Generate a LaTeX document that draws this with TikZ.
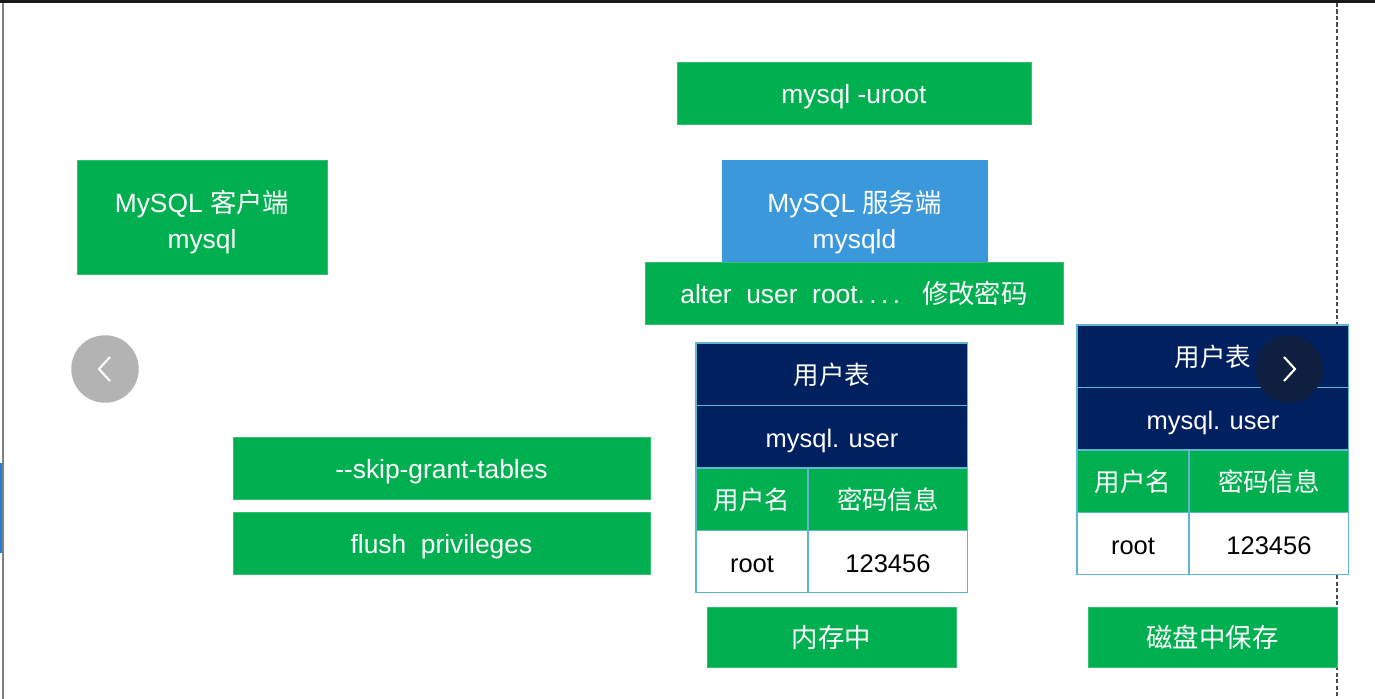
\documentclass[tikz,border=0pt]{standalone}
\usepackage{fontspec}
\setmainfont{Liberation Sans}
\newfontfamily\cjk{Noto Sans CJK SC}
\definecolor{boxgreen}{HTML}{00B050}
\definecolor{srvblue}{HTML}{3A98DB}
\definecolor{tabnavy}{HTML}{002060}
\definecolor{tabline}{HTML}{5FB6D2}
\definecolor{navdark}{HTML}{0E1F3F}
\definecolor{navgray}{HTML}{B3B3B3}
\definecolor{edgeblue}{HTML}{1E7FD8}
\begin{document}
\begin{tikzpicture}[x=0.02cm,y=-0.02cm,
      box/.style={fill=boxgreen,draw=boxgreen!80!white,line width=0.4pt,
        text=white,anchor=north west,inner sep=0pt,outer sep=0pt,
        font=\fontsize{15}{20.5}\selectfont,text height=15pt,text depth=2.6pt},
      twoline/.style={box,align=center,text height=,text depth=},
      cell/.style={draw=tabline,line width=0.6pt,anchor=north west,inner sep=0pt,
        outer sep=0pt,minimum height=1.25cm,font=\fontsize{14.5}{18}\selectfont,
        text height=14.5pt,text depth=2.6pt},
      navbtn/.style={circle,minimum size=1.35cm,inner sep=0pt},
      chev/.style={white,line width=1.2pt}]
      \useasboundingbox (0,0) rectangle (1375,699);
      \fill[white] (0,0) rectangle (1375,699);
      % window frame
      \fill[black!90] (0,0) rectangle (1375,3);
      \fill[edgeblue] (0,463) rectangle (2,553);
      \draw[gray,line width=1.1pt] (3,3)--(3,699);
      \draw[black!70,line width=0.6pt,dash pattern=on 2.5pt off 1.2pt] (1337,3)--(1337,699);
      % client and server
      \node[box,minimum width=7.08cm,minimum height=1.24cm] (uroot) at (677,62) {mysql -uroot};
      \node[twoline,minimum width=5cm,minimum height=2.28cm] (client) at (77,160) {\rule{0pt}{19pt}MySQL {\cjk 客户端}\\mysql};
      \node[twoline,fill=srvblue,draw=srvblue,minimum width=5.3cm,minimum height=2.28cm] (server) at (722,160) {\rule{0pt}{19pt}MySQL {\cjk 服务端}\\mysqld};
      \node[box,minimum width=8.36cm,minimum height=1.24cm] (alter) at (645,262) {alter\ \ user\ \ root.\,.\,.\,.\ \ \ {\cjk 修改密码}};
      \node[box,minimum width=8.34cm,minimum height=1.24cm] (skip) at (233,437) {-{}-skip-grant-tables};
      \node[box,minimum width=8.34cm,minimum height=1.24cm] (flush) at (233,512) {flush\ \ privileges};
      % user tables
      \foreach \tx/\ty/\tn in {696/343/memtab,1077/325/disktab} {
        \node[cell,fill=tabnavy,text=white,minimum width=5.44cm] (\tn-title) at (\tx,\ty) {\cjk 用户表};
        \node[cell,fill=tabnavy,text=white,minimum width=5.44cm] (\tn-name) at (\tn-title.south west) {mysql. user};
        \node[cell,fill=boxgreen,text=white,minimum width=2.24cm] (\tn-head1) at (\tn-name.south west) {\cjk 用户名};
        \node[cell,fill=boxgreen,text=white,minimum width=3.2cm] (\tn-head2) at (\tn-head1.north east) {\cjk 密码信息};
        \node[cell,fill=white,text=black,minimum width=2.24cm] (\tn-user) at (\tn-head1.south west) {root};
        \node[cell,fill=white,text=black,minimum width=3.2cm] (\tn-pass) at (\tn-user.north east) {123456};
      }
      \node[box,minimum width=4.98cm,minimum height=1.2cm] (mem) at (707,607) {\cjk 内存中};
      \node[box,minimum width=4.98cm,minimum height=1.2cm] (disk) at (1088,607) {\cjk 磁盘中保存};
      % slide buttons
      \node[navbtn,fill=navgray] (prev) at (105,369) {};
      \draw[chev] (110,357)--(99,369)--(110,381);
      \node[navbtn,fill=navdark] (next) at (1289,369) {};
      \draw[chev] (1284,357)--(1295,369)--(1284,381);
     \end{tikzpicture}
\end{document}
